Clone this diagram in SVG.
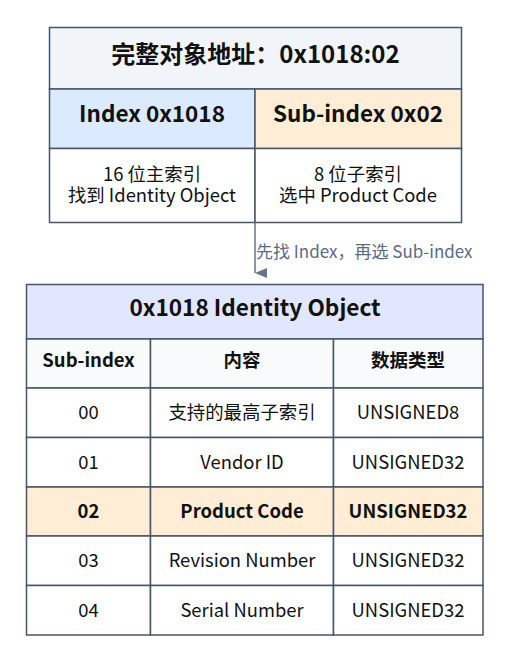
<svg xmlns="http://www.w3.org/2000/svg" width="510" height="662" viewBox="0 0 510 662">
<defs>
<style>
.c{stroke:#475569;stroke-width:1.5}
text{font-family:"Noto Sans CJK SC","Noto Sans",sans-serif;fill:#111;text-anchor:middle}
.t{font-size:24px;font-weight:bold}
.i{font-size:22.5px;font-weight:bold}
.bt{font-size:22.6px;font-weight:bold}
.h{font-size:18.5px;font-weight:bold}
.n{font-size:18.4px}
.l{font-size:17px;fill:#5b6b85;text-anchor:start}
</style>
<marker id="ah" markerWidth="10" markerHeight="12" refX="5" refY="12" orient="auto" markerUnits="userSpaceOnUse" viewBox="0 0 10 12">
<path d="M0,0 L10,0 L5,12 Z" fill="#64748b"/>
</marker>
</defs>
<rect width="510" height="662" fill="#fff"/>
<g id="address">
<rect class="c" x="49.5" y="27.5" width="412" height="61.5" fill="#f1f5f9"/>
<text class="t" x="255.5" y="62.5">完整对象地址：0x1018:02</text>
</g>
<g id="index">
<rect class="c" x="49.5" y="89" width="205.5" height="59.5" fill="#dbeafe"/>
<text class="i" x="152" y="122">Index 0x1018</text>
<rect class="c" x="49.5" y="148.5" width="205.5" height="74" fill="#fff"/>
<text class="n" x="152" y="181">16 位主索引</text>
<text class="n" x="152" y="202">找到 Identity Object</text>
</g>
<g id="subindex">
<rect class="c" x="255" y="89" width="206.5" height="59.5" fill="#ffedd5"/>
<text class="i" x="358" y="122">Sub-index 0x02</text>
<rect class="c" x="255" y="148.5" width="206.5" height="74" fill="#fff"/>
<text class="n" x="358" y="181">8 位子索引</text>
<text class="n" x="358" y="202">选中 Product Code</text>
</g>
<g id="connectors">
<line x1="255" y1="222.5" x2="255" y2="273" stroke="#64748b" stroke-width="1.5" marker-end="url(#ah)"/>
<text class="l" x="256" y="258">先找 Index，再选 Sub-index</text>
</g>
<g id="identity">
<rect class="c" x="26.5" y="284.5" width="456.5" height="54.5" fill="#e0e7ff"/>
<text class="bt" x="255" y="316">0x1018 Identity Object</text>
<rect class="c" x="26.5" y="339" width="124" height="49" fill="#f8fafc"/>
<rect class="c" x="150.5" y="339" width="183" height="49" fill="#f8fafc"/>
<rect class="c" x="333.5" y="339" width="149.5" height="49" fill="#f8fafc"/>
<text class="h" x="88.5" y="366.5">Sub-index</text>
<text class="h" x="242" y="366.5">内容</text>
<text class="h" x="408" y="366.5">数据类型</text>
</g>
<g id="row00">
<rect class="c" x="26.5" y="388" width="124" height="49.5" fill="#fff"/>
<rect class="c" x="150.5" y="388" width="183" height="49.5" fill="#fff"/>
<rect class="c" x="333.5" y="388" width="149.5" height="49.5" fill="#fff"/>
<text class="n" x="88.5" y="419">00</text>
<text class="n" x="242" y="419">支持的最高子索引</text>
<text class="n" x="408" y="419">UNSIGNED8</text>
</g>
<g id="row01">
<rect class="c" x="26.5" y="437.5" width="124" height="49.5" fill="#fff"/>
<rect class="c" x="150.5" y="437.5" width="183" height="49.5" fill="#fff"/>
<rect class="c" x="333.5" y="437.5" width="149.5" height="49.5" fill="#fff"/>
<text class="n" x="88.5" y="468.5">01</text>
<text class="n" x="242" y="468.5">Vendor ID</text>
<text class="n" x="408" y="468.5">UNSIGNED32</text>
</g>
<g id="row02">
<rect class="c" x="26.5" y="487" width="124" height="49" fill="#ffedd5"/>
<rect class="c" x="150.5" y="487" width="183" height="49" fill="#ffedd5"/>
<rect class="c" x="333.5" y="487" width="149.5" height="49" fill="#ffedd5"/>
<text class="h" x="88.5" y="518">02</text>
<text class="h" x="242" y="518">Product Code</text>
<text class="h" x="408" y="518">UNSIGNED32</text>
</g>
<g id="row03">
<rect class="c" x="26.5" y="536" width="124" height="49.5" fill="#fff"/>
<rect class="c" x="150.5" y="536" width="183" height="49.5" fill="#fff"/>
<rect class="c" x="333.5" y="536" width="149.5" height="49.5" fill="#fff"/>
<text class="n" x="88.5" y="567">03</text>
<text class="n" x="242" y="567">Revision Number</text>
<text class="n" x="408" y="567">UNSIGNED32</text>
</g>
<g id="row04">
<rect class="c" x="26.5" y="585.5" width="124" height="49.5" fill="#fff"/>
<rect class="c" x="150.5" y="585.5" width="183" height="49.5" fill="#fff"/>
<rect class="c" x="333.5" y="585.5" width="149.5" height="49.5" fill="#fff"/>
<text class="n" x="88.5" y="616.5">04</text>
<text class="n" x="242" y="616.5">Serial Number</text>
<text class="n" x="408" y="616.5">UNSIGNED32</text>
</g>
</svg>
